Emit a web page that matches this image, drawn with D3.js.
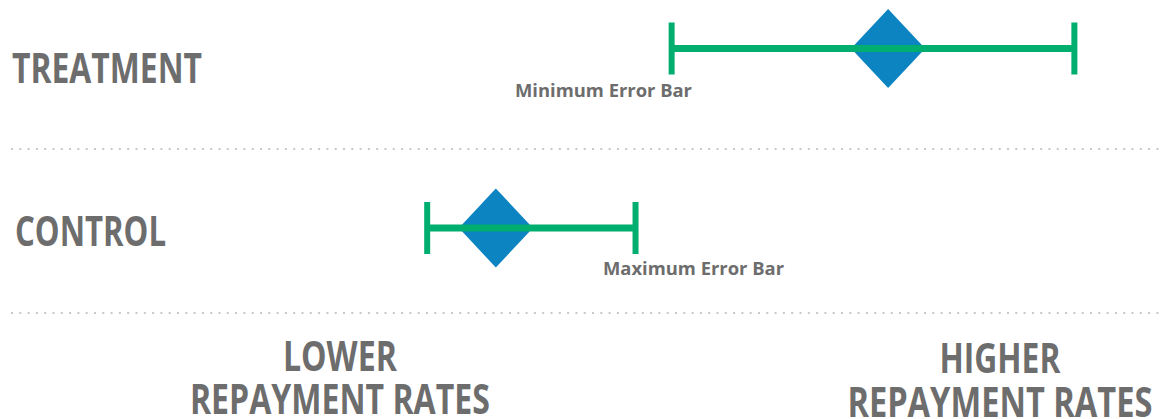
<!DOCTYPE html>
<html>
<head>
<meta charset="utf-8">
<script src="https://cdn.jsdelivr.net/npm/d3@7"></script>
<style>
  body { margin: 0; background: #fff; }
  svg { display: block; }
</style>
</head>
<body>
<div id="chart"></div>
<script>
"use strict";

// conceptual chart: repayment rate, arbitrary 0-100 units
var groups = ["TREATMENT", "CONTROL"];
var means = [76.3, 42.6];
var lows = [57.7, 36.7];
var highs = [92.3, 54.6];
var notes = ["Minimum Error Bar", "Maximum Error Bar"];
var axisLabels = [["LOWER", "REPAYMENT RATES"], ["HIGHER", "REPAYMENT RATES"]];
var axisLabelValues = [29.2, 85.9];

var width = 1164, height = 419;
var grey = "#6d6d6d", green = "#00ae6f", blue = "#0b84c1";

var x = d3.scaleLinear().domain([0, 100]).range([0, width]);
var y = d3.scaleOrdinal().domain(groups).range([48.5, 228]);

var svg = d3.select("#chart")
    .append("svg")
    .attr("width", width)
    .attr("height", height);

// dotted separators
svg.selectAll("line.sep")
    .data([149, 313])
    .enter()
    .append("line")
    .attr("class", "sep")
    .attr("x1", 11)
    .attr("x2", width)
    .attr("y1", function (d) { return d; })
    .attr("y2", function (d) { return d; })
    .attr("stroke", "#c8c8c8")
    .attr("stroke-width", 2)
    .attr("stroke-dasharray", "2,6.3");

// group labels
var labelPos = [{x: 12, y: 83, w: 190}, {x: 15, y: 246, w: 151}];
svg.selectAll("text.group")
    .data(groups)
    .enter()
    .append("text")
    .attr("class", "group")
    .attr("x", function (d, i) { return labelPos[i].x; })
    .attr("y", function (d, i) { return labelPos[i].y; })
    .attr("textLength", function (d, i) { return labelPos[i].w; })
    .attr("lengthAdjust", "spacingAndGlyphs")
    .attr("font-family", "'Open Sans', sans-serif")
    .attr("font-weight", 700)
    .attr("font-size", "42px")
    .attr("fill", grey)
    .text(function (d) { return d; });

var rows = groups.map(function (g, i) {
    return {name: g, mean: means[i], low: lows[i], high: highs[i]};
});

// diamonds (under the bar)
svg.selectAll("path.diamond")
    .data(rows)
    .enter()
    .append("path")
    .attr("class", "diamond")
    .attr("d", function (d) {
        var cx = x(d.mean), cy = y(d.name);
        return "M" + cx + "," + (cy - 39.5) + "L" + (cx + 37) + "," + cy +
            "L" + cx + "," + (cy + 39.5) + "L" + (cx - 37) + "," + cy + "Z";
    })
    .attr("fill", blue);

// error bars
svg.selectAll("line.bar")
    .data(rows)
    .enter()
    .append("line")
    .attr("class", "bar")
    .attr("x1", function (d) { return x(d.low); })
    .attr("x2", function (d) { return x(d.high); })
    .attr("y1", function (d) { return y(d.name); })
    .attr("y2", function (d) { return y(d.name); })
    .attr("stroke", green)
    .attr("stroke-width", 7);

var caps = [];
rows.forEach(function (d) {
    caps.push({v: d.low, name: d.name});
    caps.push({v: d.high, name: d.name});
});
svg.selectAll("line.cap")
    .data(caps)
    .enter()
    .append("line")
    .attr("class", "cap")
    .attr("x1", function (d) { return x(d.v); })
    .attr("x2", function (d) { return x(d.v); })
    .attr("y1", function (d) { return y(d.name) - 26; })
    .attr("y2", function (d) { return y(d.name) + 26; })
    .attr("stroke", green)
    .attr("stroke-width", 6);

// error bar notes
var notePos = [{x: 515, y: 97}, {x: 603, y: 275}];
svg.selectAll("text.note")
    .data(notes)
    .enter()
    .append("text")
    .attr("class", "note")
    .attr("x", function (d, i) { return notePos[i].x; })
    .attr("y", function (d, i) { return notePos[i].y; })
    .attr("font-family", "'Open Sans', sans-serif")
    .attr("font-weight", 700)
    .attr("font-size", "18.4px")
    .attr("fill", grey)
    .text(function (d) { return d; });

// axis end labels
var lineBase = [[371, 414], [373, 417]];
var lineWidths = [[114, 300], [121, 305]];
axisLabels.forEach(function (lines, i) {
    svg.selectAll("text.axis" + i)
        .data(lines)
        .enter()
        .append("text")
        .attr("class", "axis" + i)
        .attr("x", x(axisLabelValues[i]))
        .attr("y", function (d, j) { return lineBase[i][j]; })
        .attr("text-anchor", "middle")
        .attr("textLength", function (d, j) { return lineWidths[i][j]; })
        .attr("lengthAdjust", "spacingAndGlyphs")
        .attr("font-family", "'Open Sans', sans-serif")
        .attr("font-weight", 700)
        .attr("font-size", "41px")
        .attr("fill", grey)
        .text(function (d) { return d; });
});
</script>
</body>
</html>
